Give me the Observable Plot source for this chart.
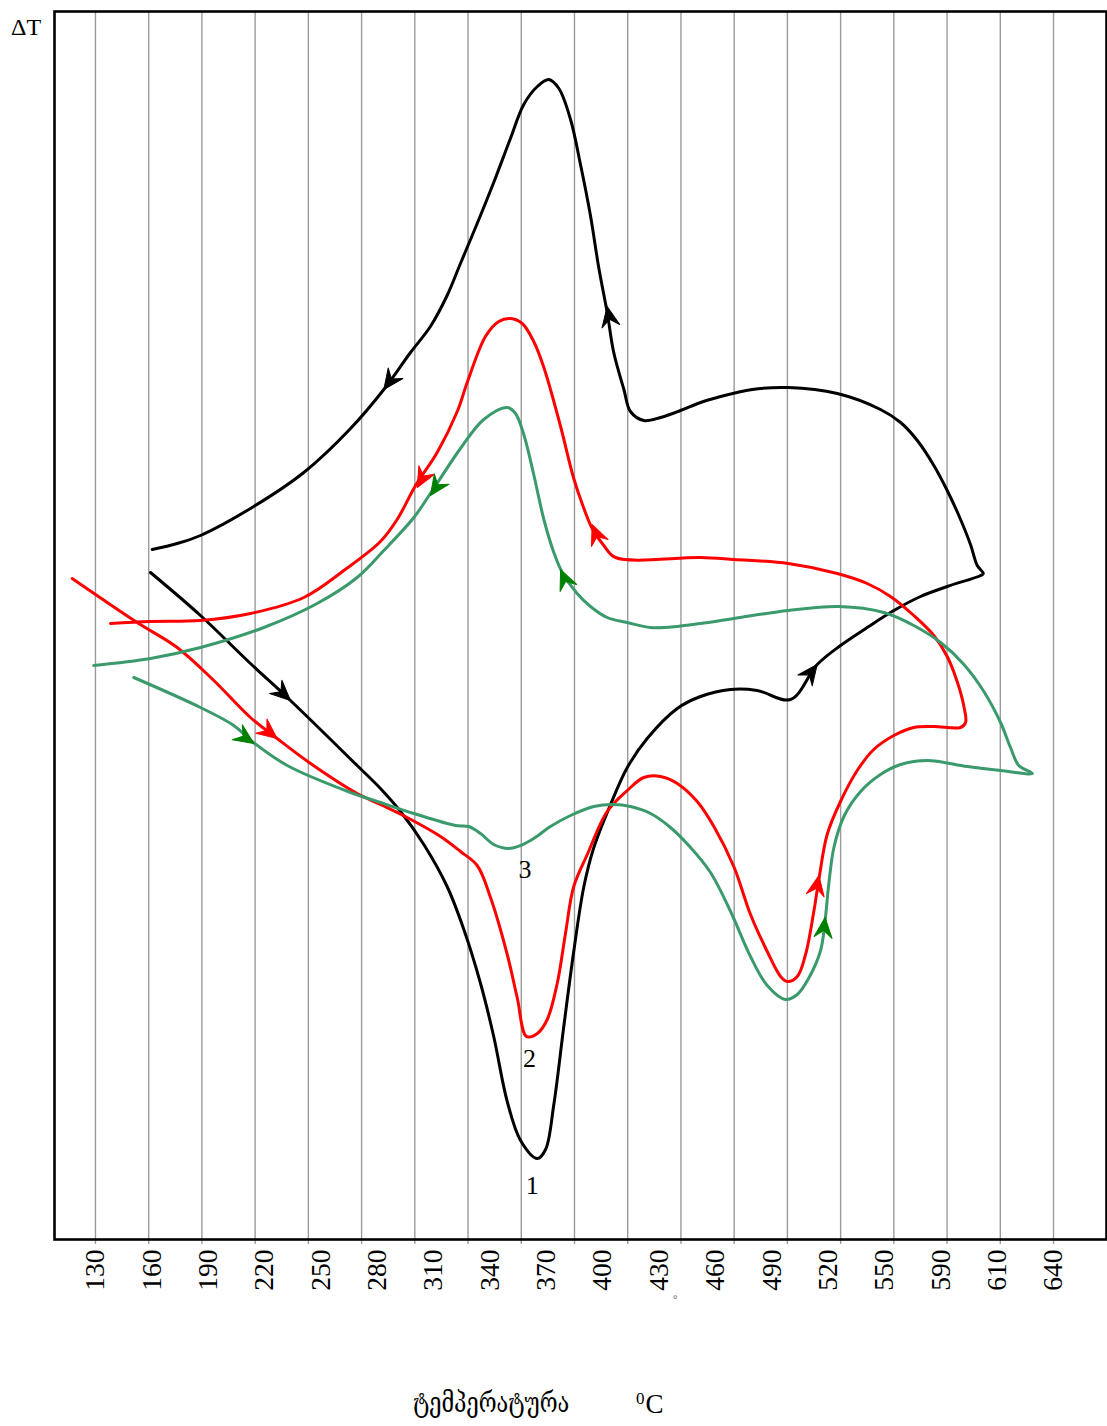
<!DOCTYPE html>
<html>
<head>
<meta charset="utf-8">
<script src="https://cdn.jsdelivr.net/npm/d3@7"></script>
<script src="https://cdn.jsdelivr.net/npm/@observablehq/plot@0.6"></script>
<style>
  body { margin: 0; background: #fff; }
  #chart { position: relative; width: 1107px; height: 1426px; }
  #chart svg { display: block; }
  .note { position: absolute; white-space: nowrap; color: #000; }
  .dt { left: 11px; top: 15px; font: 24px/24px "Liberation Serif", "Times New Roman", serif; }
  .geo { left: 413px; top: 1388px; font: 28px/30px "DejaVu Serif", "DejaVu Sans", serif; transform: scaleX(0.775); transform-origin: 0 0; }
  .unit { left: 636px; top: 1389px; font: 27px/30px "Liberation Serif", "Times New Roman", serif; }
  .unit sup { font-size: 17px; vertical-align: 9px; line-height: 0; margin-right: 1px; }
  .ring { left: 672px; top: 1296px; font: 13px/14px "DejaVu Sans", sans-serif; color: #777; }
</style>
</head>
<body>
<div id="chart"></div>
<script>
// Temperature axis labels (°C) as printed under the plot
const tickValues = [130, 160, 190, 220, 250, 280, 310, 340, 370, 400, 430, 460, 490, 520, 550, 580, 610, 640];
const tickLabels = ["130", "160", "190", "220", "250", "280", "310", "340", "370", "400", "430", "460", "490", "520", "550", "590", "610", "640"];

// DTA loop 1 (black): [temperature °C, ΔT arbitrary units], in recording order
const curve1 = [
  [159.3, 66.7], [185.9, 62.4], [212.5, 57.6], [233.8, 53.9], [269.3, 47.4], [281.7, 45.1],
  [292.4, 42.8], [304.8, 39.5], [317.2, 35.3], [326.1, 31.0], [335.0, 25.6], [342.0, 20.3],
  [349.2, 13.8], [356.3, 9.9], [365.2, 8.1], [369.6, 9.0], [374.0, 13.5], [379.3, 21.3],
  [384.6, 28.8], [390.0, 35.3], [395.3, 39.2], [404.2, 43.5], [413.1, 47.2], [423.7, 50.1],
  [439.7, 53.1], [452.1, 54.3], [468.1, 55.0], [482.3, 54.9], [500.0, 54.0], [514.2, 57.5],
  [526.6, 59.4], [540.8, 61.2], [555.0, 62.9], [569.2, 64.3], [583.4, 65.3], [601.2, 66.4],
  [602.6, 66.6], [599.4, 67.4], [595.8, 69.5], [589.6, 72.4], [583.4, 74.9], [576.3, 77.4],
  [567.5, 79.9], [558.6, 81.7], [547.9, 83.0], [524.9, 84.6], [498.8, 85.2], [479.6, 85.0],
  [461.0, 84.2], [452.1, 83.7], [441.4, 82.9], [430.8, 82.2], [421.9, 81.9], [414.8, 82.8],
  [411.3, 85.0], [405.9, 88.7], [402.4, 92.7], [397.9, 97.2], [393.5, 102.4], [388.2, 107.5],
  [382.9, 112.0], [376.7, 115.1], [371.3, 116.0], [365.2, 115.3], [358.0, 113.5], [350.9, 110.1],
  [342.0, 105.7], [333.2, 101.6], [324.3, 97.6], [317.2, 94.4], [308.3, 91.3], [297.7, 88.7],
  [283.5, 85.0], [265.8, 81.1], [240.9, 76.7], [212.5, 73.1], [185.9, 70.4], [173.5, 69.6],
  [160.2, 69.0]
];

// DTA loop 2 (red)
const curve2 = [
  [117.6, 66.1], [152.2, 61.7], [173.5, 59.2], [193.0, 55.9], [212.5, 52.2], [226.7, 50.1],
  [244.5, 47.6], [269.3, 44.6], [281.7, 43.5], [295.9, 42.2], [313.7, 40.3], [324.3, 38.8],
  [333.2, 37.4], [340.3, 34.2], [349.2, 28.5], [354.5, 24.2], [359.5, 20.3], [365.2, 20.6],
  [370.5, 22.0], [375.8, 25.6], [380.2, 30.6], [384.6, 35.3], [391.8, 38.5], [402.4, 42.8],
  [413.1, 44.9], [421.9, 46.2], [430.8, 46.3], [439.7, 45.6], [450.3, 43.8], [459.2, 41.3],
  [469.8, 37.3], [478.7, 32.5], [487.6, 28.8], [494.7, 26.3], [498.2, 25.8], [503.6, 26.3],
  [508.0, 28.5], [512.4, 32.8], [515.1, 36.0], [519.5, 40.5], [526.6, 43.8], [535.5, 46.9],
  [544.3, 49.0], [555.0, 50.4], [565.6, 51.2], [576.3, 51.3], [590.5, 51.2], [593.2, 51.7],
  [592.3, 53.3], [588.7, 55.8], [583.4, 58.3], [576.3, 60.4], [565.6, 62.4], [553.2, 64.3],
  [540.8, 65.6], [524.9, 66.6], [498.8, 67.6], [469.8, 68.0], [452.1, 68.2], [406.8, 68.2],
  [400.6, 69.4], [394.4, 71.1], [390.0, 73.1], [384.6, 76.1], [377.6, 81.3], [368.7, 87.2],
  [363.3, 89.8], [357.2, 91.6], [350.9, 92.1], [344.7, 91.8], [337.6, 90.3], [327.9, 85.7],
  [322.6, 82.8], [311.9, 78.7], [300.4, 75.4], [290.6, 72.0], [281.7, 69.8], [262.2, 66.9],
  [240.9, 64.2], [212.5, 62.6], [185.9, 61.9], [159.3, 61.8], [138.0, 61.6]
];

// DTA loop 3 (green)
const curve3 = [
  [150.4, 56.2], [185.9, 53.2], [203.6, 51.4], [214.1, 49.7], [232.1, 47.4], [265.8, 44.7],
  [281.7, 43.7], [299.5, 42.6], [321.7, 41.4], [328.7, 41.3], [335.0, 40.6], [342.0, 39.5],
  [350.0, 39.1], [356.3, 39.4], [363.3, 40.1], [372.2, 41.3], [382.9, 42.4], [395.3, 43.3],
  [405.9, 43.5], [414.8, 43.3], [425.5, 42.6], [436.1, 41.2], [446.8, 39.2], [457.4, 36.7],
  [468.1, 32.8], [478.7, 28.3], [487.6, 25.4], [497.3, 24.0], [503.6, 24.5], [509.6, 26.1],
  [516.0, 28.9], [518.4, 31.9], [520.4, 35.6], [523.1, 39.2], [528.4, 42.3], [537.3, 44.8],
  [547.9, 46.5], [558.6, 47.5], [572.8, 47.9], [594.1, 47.3], [611.8, 46.9], [628.7, 46.6],
  [621.5, 47.4], [617.1, 49.2], [611.8, 51.7], [602.9, 54.8], [592.3, 57.5], [579.9, 59.7],
  [565.6, 61.4], [549.7, 62.7], [525.7, 63.3], [498.8, 62.9], [469.8, 62.1], [452.1, 61.6],
  [439.7, 61.3], [425.5, 61.2], [413.1, 61.7], [402.4, 62.2], [393.5, 63.3], [386.4, 64.6],
  [378.5, 66.7], [374.0, 68.7], [368.7, 72.0], [363.3, 76.5], [358.0, 80.5], [353.6, 82.6],
  [349.2, 83.2], [336.7, 82.0], [324.3, 79.1], [308.3, 74.6], [299.5, 72.2], [283.5, 68.9],
  [269.3, 66.2], [248.0, 63.6], [219.6, 61.2], [185.9, 59.2], [159.3, 58.1], [129.1, 57.4]
];

// Direction arrowheads placed on each loop (tip position)
const arrows1 = [[233.8, 53.9], [283.5, 85.0], [402.4, 93.3], [514.2, 57.5]];
const arrows2 = [[226.7, 50.1], [301.3, 75.2], [394.4, 71.5], [515.1, 36.4]];
const arrows3 = [[214.3, 49.6], [308.3, 74.4], [377.6, 67.0], [518.4, 32.2]];

// Loop numbers
const loopLabels = [
  { text: "1", t: 362.5, v: 5.4 },
  { text: "2", t: 361.1, v: 18.1 },
  { text: "3", t: 358.6, v: 37.0 }
];

// Chart geometry
const W = 1107, H = 1300;
const M = { top: 11, right: 1, bottom: 61, left: 54 };
const xDomain = [108.2, 668.2];
const yDomain = [0, 122.8];
const gridCount = 19; // vertical rulings spanning 130–640 °C

const xs = d3.scaleLinear(xDomain, [M.left, W - M.right]);
const ys = d3.scaleLinear(yDomain, [H - M.bottom, M.top]);

const series = [
  { id: 1, pts: curve1, arrows: arrows1, line: "#000000", head: "#000000" },
  { id: 2, pts: curve2, arrows: arrows2, line: "#ff0000", head: "#ff0000" },
  { id: 3, pts: curve3, arrows: arrows3, line: "#3a9a6b", head: "#008000" }
];

const rows = series.flatMap(s => s.pts.map(([t, v], i) => ({ id: s.id, i, t, v })));

// Orient each arrowhead along the nearest segment of its loop (screen space)
function headings(s) {
  const P = s.pts.map(([t, v]) => [xs(t), ys(v)]);
  return s.arrows.map(([t, v]) => {
    const px = xs(t), py = ys(v);
    let best = Infinity, dir = [1, 0];
    for (let k = 0; k < P.length - 1; k++) {
      const [ax, ay] = P[k], [bx, by] = P[k + 1];
      const dx = bx - ax, dy = by - ay;
      const L2 = dx * dx + dy * dy || 1;
      const u = Math.max(0, Math.min(1, ((px - ax) * dx + (py - ay) * dy) / L2));
      const qx = ax + u * dx - px, qy = ay + u * dy - py;
      const d2 = qx * qx + qy * qy;
      if (d2 < best) { best = d2; dir = [dx, dy]; }
    }
    const rot = Math.atan2(dir[0], -dir[1]) * 180 / Math.PI;
    return { id: s.id, t, v, rot, color: s.head };
  });
}
const heads = series.flatMap(headings);

// Filled barbed arrowhead, tip at the end of the vector
const barb = {
  draw(context, l) {
    context.moveTo(0, -l);
    context.lineTo(l * 0.45, 0);
    context.lineTo(0, -l * 0.35);
    context.lineTo(-l * 0.45, 0);
    context.closePath();
  }
};

const gridX = d3.range(gridCount).map(i => tickValues[0] + i * (tickValues[tickValues.length - 1] - tickValues[0]) / (gridCount - 1));
const labelOf = new Map(tickValues.map((d, i) => [d, tickLabels[i]]));

const plot = Plot.plot({
  width: W,
  height: H,
  marginTop: M.top,
  marginRight: M.right,
  marginBottom: M.bottom,
  marginLeft: M.left,
  style: { fontFamily: "'Liberation Serif', 'Times New Roman', serif", background: "#fff", color: "#000" },
  x: { domain: xDomain },
  y: { domain: yDomain, axis: null },
  marks: [
    Plot.ruleX(gridX, { stroke: "#9b9b9b", strokeWidth: 1.4, insetBottom: -5 }),
    Plot.axisX({
      ticks: tickValues,
      tickFormat: d => labelOf.get(d),
      tickSize: 0,
      tickPadding: 10,
      tickRotate: -90,
      fontSize: 27.5,
      label: null
    }),
    ...series.map(s => Plot.line(rows.filter(r => r.id === s.id), {
      x: "t", y: "v", stroke: s.line, strokeWidth: 3, curve: "catmull-rom", strokeLinejoin: "round"
    })),
    Plot.vector(heads, {
      x: "t", y: "v", rotate: "rot", length: 20, anchor: "end", shape: barb,
      fill: d => d.color, stroke: d => d.color, strokeWidth: 1
    }),
    Plot.text(loopLabels, { x: "t", y: "v", text: "text", fontSize: 26, fill: "#000" }),
    Plot.frame({ stroke: "#000", strokeWidth: 2.6 })
  ]
});

const root = document.getElementById("chart");
root.appendChild(plot);
root.insertAdjacentHTML("beforeend",
  '<div class="note dt">ΔT</div>' +
  '<div class="note ring">˚</div>' +
  '<div class="note geo">ტემპერატურა</div>' +
  '<div class="note unit"><sup>0</sup>C</div>');
</script>
</body>
</html>
